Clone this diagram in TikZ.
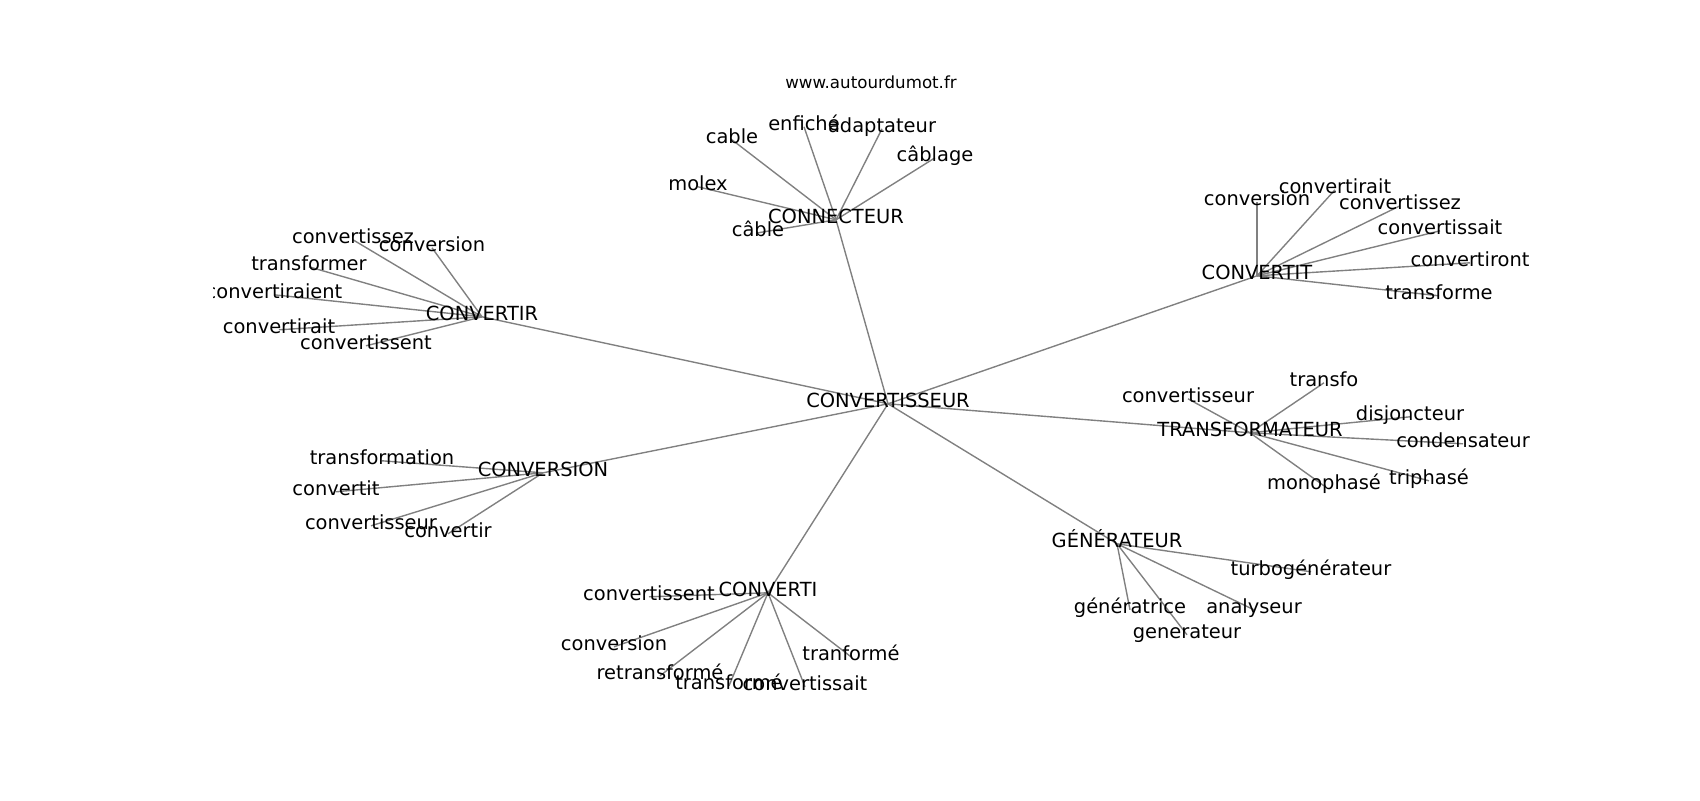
\documentclass[tikz,border=0pt]{standalone}
\usepackage{fontspec}
\setmainfont{DejaVu Sans}
\usetikzlibrary{backgrounds}
\definecolor{edgegray}{RGB}{128,128,128}
\tikzset{
  lbl/.style={inner sep=0pt, outer sep=0pt, text height=0.76em, text depth=0.24em, font=\fontsize{14}{16}\selectfont, text=black},
  ttl/.style={inner sep=0pt, anchor=base, font=\fontsize{12}{14}\selectfont, text=black},
  edge/.style={draw=edgegray, line width=1pt}
}
\begin{document}
\begin{tikzpicture}[x=0.72pt, y=-0.72pt]
\useasboundingbox (0,0) rectangle (1700,800);
\node[ttl] (title) at (871,88.7) {www.autourdumot.fr};
\begin{scope}[shift={(0,2.8)}]
% hubs
\node[lbl] (c0) at (888,401) {CONVERTISSEUR};
\node[lbl] (cn) at (836,217) {CONNECTEUR};
\node[lbl] (cr) at (482,314) {CONVERTIR};
\node[lbl] (ct) at (1257,273) {CONVERTIT};
\node[lbl] (tr) at (1250,430) {TRANSFORMATEUR};
\node[lbl] (cs) at (543,470) {CONVERSION};
\node[lbl] (ci) at (768,590) {CONVERTI};
\node[lbl] (ge) at (1117,541) {GÉNÉRATEUR};
% CONNECTEUR leaves
\node[lbl] (cn1) at (732,137) {cable};
\node[lbl] (cn2) at (804,124) {enfiché};
\node[lbl] (cn3) at (882,126) {adaptateur};
\node[lbl] (cn4) at (935,155) {câblage};
\node[lbl] (cn5) at (698,184) {molex};
\node[lbl] (cn6) at (758,230) {câble};
% CONVERTIR leaves
\node[lbl] (cr1) at (353,237) {convertissez};
\node[lbl] (cr2) at (432,245) {conversion};
\node[lbl] (cr3) at (309,264) {transformer};
\begin{scope}
\clip (213,-10) rectangle (1700,800);
\node[lbl] (cr4) at (274,292) {convertiraient};
\end{scope}
\node[lbl] (cr5) at (279,327) {convertirait};
\node[lbl] (cr6) at (366,343) {convertissent};
% CONVERTIT leaves
\node[lbl] (ct1) at (1257,199) {conversion};
\node[lbl] (ct2) at (1335,187) {convertirait};
\node[lbl] (ct3) at (1400,203) {convertissez};
\node[lbl] (ct4) at (1440,228) {convertissait};
\node[lbl] (ct5) at (1470,260) {convertiront};
\node[lbl] (ct6) at (1439,293) {transforme};
% TRANSFORMATEUR leaves
\node[lbl] (tr1) at (1188,396) {convertisseur};
\node[lbl] (tr2) at (1324,380) {transfo};
\node[lbl] (tr3) at (1410,414) {disjoncteur};
\node[lbl] (tr4) at (1463,441) {condensateur};
\node[lbl] (tr5) at (1429,478) {triphasé};
\node[lbl] (tr6) at (1324,483) {monophasé};
% CONVERSION leaves
\node[lbl] (cs1) at (382,458) {transformation};
\node[lbl] (cs2) at (336,489) {convertit};
\node[lbl] (cs3) at (371,523) {convertisseur};
\node[lbl] (cs4) at (448,531) {convertir};
% CONVERTI leaves
\node[lbl] (ci1) at (649,594) {convertissent};
\node[lbl] (ci2) at (614,644) {conversion};
\node[lbl] (ci3) at (851,654) {tranformé};
\node[lbl] (ci4) at (660,673) {retransformé};
\node[lbl] (ci5) at (729,683) {transformé};
\node[lbl] (ci6) at (805,684) {convertissait};
% GENERATEUR leaves
\node[lbl] (ge1) at (1311,569) {turbogénérateur};
\node[lbl] (ge2) at (1130,607) {génératrice};
\node[lbl] (ge3) at (1254,607) {analyseur};
\node[lbl] (ge4) at (1187,632) {generateur};
\begin{scope}[on background layer]
\foreach \h in {cn,cr,ct,tr,cs,ci,ge} {\draw[edge] (c0.center) -- (\h.center);}
\foreach \i in {1,...,6} {
  \draw[edge] (cn.center) -- (cn\i.center);
  \draw[edge] (cr.center) -- (cr\i.center);
  \draw[edge] (ct.center) -- (ct\i.center);
  \draw[edge] (tr.center) -- (tr\i.center);
  \draw[edge] (ci.center) -- (ci\i.center);
}
\foreach \i in {1,...,4} {
  \draw[edge] (cs.center) -- (cs\i.center);
  \draw[edge] (ge.center) -- (ge\i.center);
}
\end{scope}
\end{scope}
\end{tikzpicture}
\end{document}
